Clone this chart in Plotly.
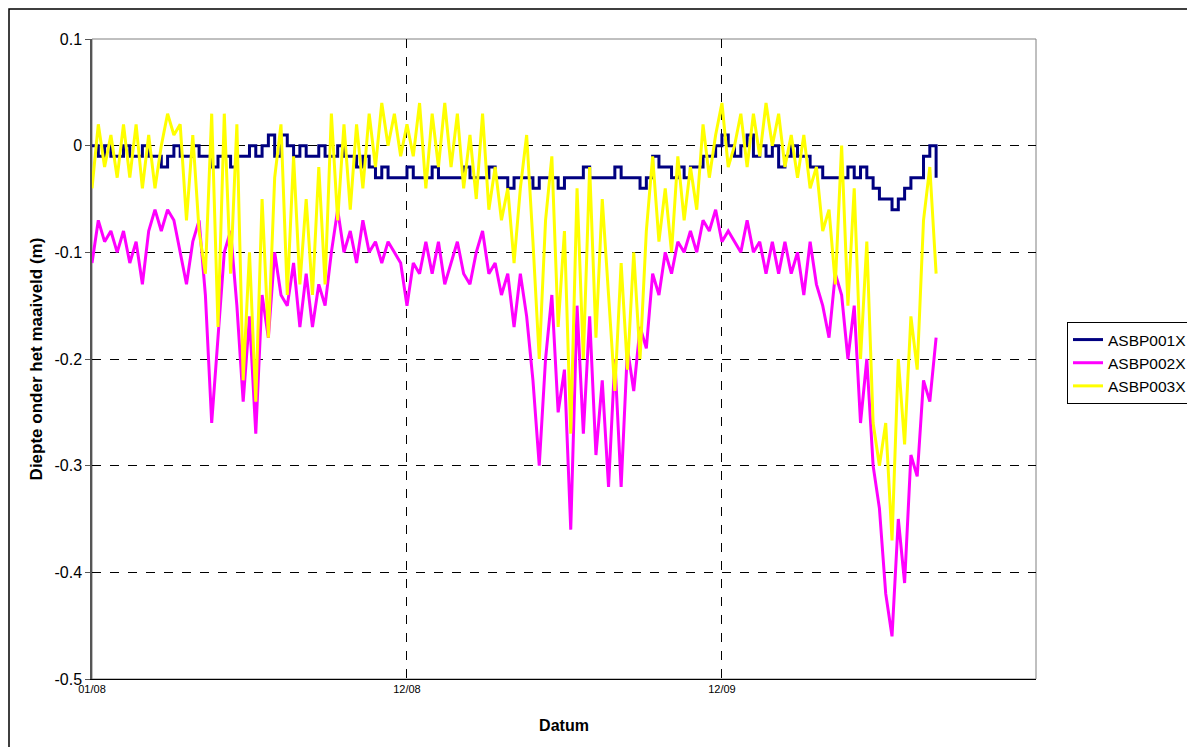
import pandas as pd
import plotly.graph_objects as go

# ---- data (weekly readings) ----
start_date = "2008-01-01"
n_points = 135

asbp001x = [0, -0.01, 0, -0.01, -0.01, 0, -0.01, -0.01, 0, -0.01, -0.01, -0.02, -0.01, 0, -0.01, -0.01, 0, -0.01,
            -0.01, -0.02, -0.01, -0.01, -0.02, -0.01, -0.01, 0, -0.01,
            0, 0.01, -0.01, 0.01, 0, -0.01, 0, -0.01,
            -0.01, 0, -0.01, -0.01, 0, -0.01, -0.01, -0.02, -0.01, -0.02,
            -0.03, -0.02, -0.03, -0.03, -0.03, -0.02, -0.03, -0.03, -0.03, -0.02, -0.03, -0.03, -0.03, -0.03,
            -0.02, -0.03, -0.03, -0.03, -0.02, -0.03, -0.03, -0.04, -0.03, -0.03, -0.03, -0.04, -0.03, -0.03,
            -0.03, -0.04, -0.03, -0.03, -0.03, -0.02, -0.03, -0.03, -0.03, -0.03, -0.02, -0.03, -0.03, -0.03, -0.04,
            -0.03, -0.01, -0.02, -0.02, -0.03, -0.02, -0.03, -0.02, -0.02, -0.01, -0.01, 0,
            0.01, 0, -0.01, 0, 0.01, -0.01, 0, -0.01, 0, -0.02, -0.01, 0,
            -0.01, -0.01, -0.02, -0.02, -0.03, -0.03, -0.03,
            -0.03, -0.02, -0.03, -0.02, -0.03, -0.04, -0.05, -0.05, -0.06, -0.05, -0.04, -0.03, -0.03, -0.01, 0, -0.03]

asbp002x = [-0.11, -0.07, -0.09, -0.08, -0.10, -0.08, -0.11, -0.09, -0.13, -0.08,
            -0.06, -0.08, -0.06, -0.07, -0.10, -0.13, -0.09, -0.07, -0.14, -0.26,
            -0.18, -0.10, -0.08, -0.15, -0.24, -0.16, -0.27, -0.14, -0.18, -0.10,
            -0.14, -0.15, -0.11, -0.17, -0.12, -0.17, -0.13, -0.15, -0.10, -0.06,
            -0.10, -0.08, -0.11, -0.07, -0.10, -0.09, -0.11, -0.09, -0.10, -0.11,
            -0.15, -0.11, -0.12, -0.09, -0.12, -0.09, -0.13, -0.11, -0.09, -0.12,
            -0.13, -0.10, -0.08, -0.12, -0.11, -0.14, -0.12, -0.17, -0.12, -0.16,
            -0.22, -0.30, -0.20, -0.14, -0.25, -0.21, -0.36, -0.15, -0.27, -0.16,
            -0.29, -0.22, -0.32, -0.20, -0.32, -0.19, -0.23, -0.17, -0.19, -0.12,
            -0.14, -0.10, -0.12, -0.09, -0.10, -0.08, -0.10, -0.07, -0.08, -0.06,
            -0.09, -0.08, -0.09, -0.10, -0.07, -0.10, -0.09, -0.12, -0.09, -0.12,
            -0.09, -0.12, -0.10, -0.14, -0.09, -0.13, -0.15, -0.18, -0.12, -0.14,
            -0.20, -0.15, -0.26, -0.20, -0.30, -0.34, -0.42, -0.46, -0.35, -0.41,
            -0.29, -0.31, -0.22, -0.24, -0.18]

asbp003x = [-0.04, 0.02, -0.02, 0.01, -0.03, 0.02, -0.03, 0.02, -0.04, 0.01,
            -0.04, 0.00, 0.03, 0.01, 0.02, -0.07, 0.01, -0.08, -0.12, 0.03,
            -0.17, 0.03, -0.12, 0.02, -0.22, -0.10, -0.24, -0.05, -0.18, -0.03,
            0.02, -0.14, -0.01, -0.13, -0.05, -0.14, -0.02, -0.13, 0.03, -0.07,
            0.02, -0.06, 0.02, -0.04, 0.03, -0.02, 0.04, 0.00, 0.03, -0.01,
            0.02, -0.01, 0.04, -0.04, 0.03, -0.02, 0.04, -0.02, 0.03, -0.04,
            0.01, -0.05, 0.03, -0.06, -0.02, -0.07, -0.04, -0.11, -0.04, 0.01,
            -0.09, -0.20, -0.07, -0.01, -0.17, -0.08, -0.27, -0.04, -0.20, -0.02,
            -0.18, -0.05, -0.14, -0.23, -0.11, -0.21, -0.10, -0.20, -0.08, -0.01,
            -0.09, -0.04, -0.10, -0.01, -0.07, -0.02, -0.06, 0.02, -0.03, 0.01,
            0.04, -0.02, 0.00, 0.03, -0.02, 0.03, -0.01, 0.04, 0.00, 0.03,
            -0.02, 0.01, -0.03, 0.01, -0.04, -0.02, -0.08, -0.06, -0.13, 0.00,
            -0.15, -0.04, -0.20, -0.09, -0.26, -0.30, -0.26, -0.37, -0.20, -0.28,
            -0.16, -0.21, -0.07, -0.02, -0.12]

series_names = ["ASBP001X", "ASBP002X", "ASBP003X"]
series_colors = ["#000080", "#FF00FF", "#FFFF00"]
series_shapes = ["hv", "linear", "linear"]

x_tick_vals = ["2008-01-01", "2008-12-16", "2009-12-01"]
x_tick_text = ["01/08", "12/08", "12/09"]
x_range = ["2008-01-01", "2010-11-15"]

y_tick_vals = [0.1, 0, -0.1, -0.2, -0.3, -0.4, -0.5]
y_tick_text = ["0.1", "0", "-0.1", "-0.2", "-0.3", "-0.4", "-0.5"]

dates = pd.date_range(start=start_date, periods=n_points, freq="7D")

fig = go.Figure()
for name, vals, col, shp in zip(series_names, [asbp001x, asbp002x, asbp003x], series_colors, series_shapes):
    n = min(len(vals), len(dates))
    fig.add_trace(go.Scatter(x=dates[:n], y=vals[:n], mode="lines", name=name,
                             legendgroup=name,
                             line=dict(color=col, width=3, shape=shp)))

# page body has an 8px margin, so the figure is 8px smaller than the window
OFF = 8
W, H = 1195 - OFF, 747 - OFF
L, T = 92 - OFF, 39 - OFF
pw, ph = 944, 640
R, B = W - L - pw, H - T - ph

def px_to_paper_x(px):
    return (px - OFF - L) / pw

def px_to_paper_y(py):
    return (T + ph - (py - OFF)) / ph

fig.update_layout(
    width=W, height=H,
    margin=dict(l=L, r=R, t=T, b=B, autoexpand=False),
    paper_bgcolor="white", plot_bgcolor="white",
    font=dict(family="Liberation Sans, Arial, sans-serif", color="black", size=11),
    showlegend=True,
    legend=dict(x=px_to_paper_x(1067), y=px_to_paper_y(322), xanchor="left", yanchor="top",
                bordercolor="black", borderwidth=1, bgcolor="white",
                font=dict(size=15.5), tracegroupgap=0, itemwidth=30),
    xaxis=dict(type="date", range=x_range, tickvals=x_tick_vals, ticktext=x_tick_text,
               showgrid=True, gridcolor="black", griddash="dash", gridwidth=1,
               showline=True, linecolor="black", linewidth=1, mirror=False,
               ticks="", tickfont=dict(size=11), zeroline=False,
               title=dict(text="<b>Datum</b>", font=dict(size=16), standoff=25)),
    yaxis=dict(range=[-0.5, 0.1], tickvals=y_tick_vals, ticktext=y_tick_text,
               showgrid=True, gridcolor="black", griddash="dash", gridwidth=1,
               showline=True, linecolor="#555555", linewidth=1.5,
               ticks="outside", ticklen=5, tickcolor="#555555", tickfont=dict(size=16),
               zeroline=False,
               title=dict(text="<b>Diepte onder het maaiveld (m)</b>", font=dict(size=17), standoff=8)),
)

# plot-area frame and outer chart border
fig.add_shape(type="rect", xref="paper", yref="paper", x0=0, y0=0, x1=1, y1=1,
              line=dict(color="#808080", width=1), layer="below")
fig.add_shape(type="rect", xref="paper", yref="paper",
              x0=px_to_paper_x(9), y0=px_to_paper_y(760), x1=px_to_paper_x(1210), y1=px_to_paper_y(9),
              line=dict(color="black", width=1.5))

fig.write_html("out.html")
